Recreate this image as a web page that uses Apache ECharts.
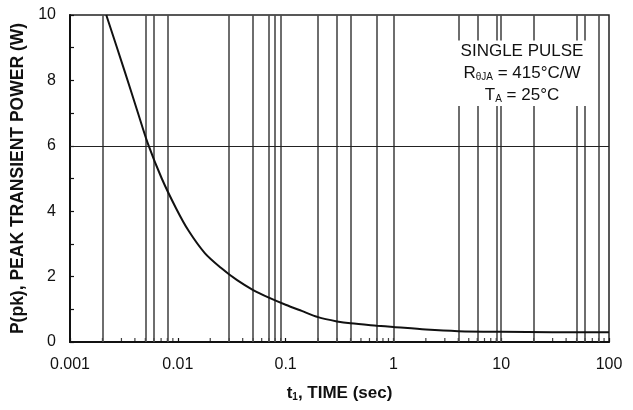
<!DOCTYPE html>
<html>
<head>
<meta charset="utf-8">
<script src="https://cdn.jsdelivr.net/npm/echarts@6/dist/echarts.min.js"></script>
<style>html,body{margin:0;padding:0;background:#fff;}#c{width:633px;height:410px;}</style>
</head>
<body>
<div id="c"></div>
<script>
// curve: time (s) vs peak transient power (W)
const timeSec = [0.00217, 0.0032, 0.0042, 0.0053, 0.0071, 0.0096, 0.0126, 0.0178, 0.0251, 0.0355, 0.05, 0.0708, 0.1, 0.141, 0.2, 0.3, 0.4, 0.7, 1, 2, 4, 10, 30, 100];
const powerW  = [10, 8.3, 7.08, 6.05, 5.0, 4.1, 3.4, 2.72, 2.27, 1.89, 1.59, 1.35, 1.14, 0.95, 0.76, 0.63, 0.57, 0.50, 0.46, 0.38, 0.33, 0.31, 0.30, 0.30];
// vertical grid lines drawn in the original
const gridX = [0.002, 0.005, 0.006, 0.008, 0.03, 0.05, 0.07, 0.08, 0.09, 0.2, 0.3, 0.4, 0.7, 1, 4, 6, 9, 10, 20, 50, 60, 80];
// horizontal grid line
const gridY = [6];
// minor ticks on the time axis
const minorX = [0.002,0.003,0.004,0.005,0.006,0.007,0.008,0.009,
                0.02,0.03,0.04,0.05,0.06,0.07,0.08,0.09,
                0.2,0.3,0.4,0.5,0.6,0.7,0.8,0.9,
                2,3,4,5,6,7,8,9,
                20,30,40,50,60,70,80,90];
const xTickLabels = ['0.001','0.01','0.1','1','10','100'];
const yTickLabels = ['0','2','4','6','8','10'];

const F = 'Liberation Sans, Arial, sans-serif';
const chart = echarts.init(document.getElementById('c'));
chart.setOption({
  animation: false,
  backgroundColor: '#fff',
  grid: { left: 70, right: 24, top: 15, bottom: 68, show: true, borderColor: '#222', borderWidth: 1.5 },
  title: {
    left: 518, top: 38, textAlign: 'center',
    backgroundColor: '#fff', padding: [2, 4, 2, 4],
    text: '{a|SINGLE PULSE}\n{a|R}{s|θJA}{a| = 415°C/W}\n{a|T}{s|A}{a| = 25°C}',
    textStyle: {
      fontWeight: 'normal',
      rich: {
        a: { fontFamily: F, fontSize: 17, fontWeight: 'normal', color: '#111', lineHeight: 22 },
        s: { fontFamily: F, fontSize: 10, fontWeight: 'normal', color: '#111', lineHeight: 22, padding: [8, 0, 0, 0] }
      }
    },
    z: 10
  },
  xAxis: {
    type: 'log', logBase: 10, min: 0.001, max: 100,
    name: '{a|t}{s|1}{a|, TIME (sec)}', nameLocation: 'middle', nameGap: 41,
    nameTextStyle: { rich: {
      a: { fontFamily: F, fontSize: 17, fontWeight: 'bold', color: '#111', lineHeight: 20 },
      s: { fontFamily: F, fontSize: 10, fontWeight: 'bold', color: '#111', lineHeight: 20, padding: [8, 0, 0, 0] }
    } },
    axisLine: { lineStyle: { color: '#111', width: 2 } },
    axisTick: { inside: true, length: 4, lineStyle: { color: '#111', width: 1.2 } },
    axisLabel: { fontFamily: F, fontSize: 16, color: '#111', margin: 15,
      formatter: function (v) { const i = Math.round(Math.log10(v) + 3); return xTickLabels[i] || ''; } },
    splitLine: { show: false }
  },
  yAxis: {
    type: 'value', min: 0, max: 10, interval: 2,
    name: 'P(pk), PEAK TRANSIENT POWER (W)', nameLocation: 'middle', nameGap: 38,
    nameTextStyle: { fontFamily: F, fontSize: 17.5, fontWeight: 'bold', color: '#111' },
    axisLine: { show: true, lineStyle: { color: '#111', width: 2 } },
    axisTick: { inside: true, length: 4, lineStyle: { color: '#111', width: 1.2 } },
    minorTick: { show: true, splitNumber: 2, length: 4, lineStyle: { color: '#111', width: 1.2 } },
    axisLabel: { fontFamily: F, fontSize: 16, color: '#111', margin: 14,
      formatter: function (v) { return yTickLabels[Math.round(v / 2)]; } },
    splitLine: { show: false }
  },
  series: [
    {
      type: 'line', data: timeSec.map((t, i) => [t, powerW[i]]),
      showSymbol: false, smooth: 0.3,
      lineStyle: { color: '#111', width: 2 }, z: 5,
      markLine: {
        silent: true, symbol: 'none', label: { show: false }, precision: 8,
        data: gridX.map(v => ({ xAxis: v, lineStyle: { color: '#4a4a4a', width: 1.6, type: 'solid' } }))
          .concat(gridY.map(v => ({ yAxis: v, lineStyle: { color: '#222', width: 1, type: 'solid' } })))
      }
    },
    {
      type: 'scatter', data: minorX.map(v => [v, 0]), clip: false,
      symbol: 'rect', symbolSize: [1.2, 4], symbolOffset: [0, -2],
      itemStyle: { color: '#111' }, silent: true, z: 4
    }
  ]
});
</script>
</body>
</html>
